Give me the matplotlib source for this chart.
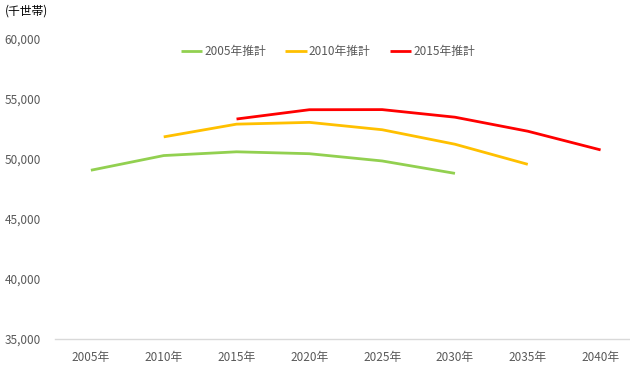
import matplotlib.pyplot as plt

plt.rcParams["font.family"] = ["Noto Sans CJK JP", "DejaVu Sans"]

years = ["2005年", "2010年", "2015年", "2020年", "2025年", "2030年", "2035年", "2040年"]

est_2005 = [49063, 50287, 50600, 50441, 49837, 48802]
est_2010 = [51842, 52904, 53053, 52439, 51231, 49555]
est_2015 = [53332, 54107, 54116, 53484, 52315, 50757]

series = [
    ("2005年推計", 0, est_2005, "#92D050"),
    ("2010年推計", 1, est_2010, "#FFC000"),
    ("2015年推計", 2, est_2015, "#FF0000"),
]

TEXT = "#595959"

fig = plt.figure(figsize=(6.3, 3.8), dpi=100)
# category band runs a little past the right edge, like the original
ax = fig.add_axes([54.5 / 630, 41 / 380, 582.5 / 630, 300 / 380])

for label, start, values, color in series:
    xs = list(range(start, start + len(values)))
    ax.plot(xs, values, color=color, linewidth=2.0, label=label, solid_capstyle="butt")

ax.set_xlim(-0.5, 7.5)
ax.set_ylim(35000, 60000)
ax.set_yticks(range(35000, 60001, 5000))
ax.set_yticklabels([f"{v:,}" for v in range(35000, 60001, 5000)])
ax.set_xticks(range(len(years)))
ax.set_xticklabels(years)

for side in ["top", "right", "left"]:
    ax.spines[side].set_visible(False)
ax.spines["bottom"].set_color("#d9d9d9")
ax.spines["bottom"].set_linewidth(1.0)
ax.tick_params(axis="both", length=0, colors=TEXT, labelsize=8.5)
ax.tick_params(axis="x", pad=9)
ax.tick_params(axis="y", pad=10)

fig.text(5 / 630, 1 - 11 / 380, "(千世帯)", fontsize=8.5, color="black", va="center", ha="left")

leg = fig.legend(
    loc="center",
    bbox_to_anchor=(328 / 630, 1 - 52 / 380),
    ncol=3,
    frameon=False,
    fontsize=8.5,
    handlelength=1.8,
    handletextpad=0.2,
    columnspacing=1.6,
)
for t in leg.get_texts():
    t.set_color(TEXT)

fig.savefig("out.png", dpi=100)
